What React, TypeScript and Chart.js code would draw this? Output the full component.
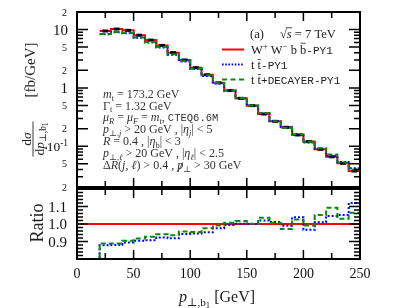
import React, { useEffect, useRef } from 'react';
import { Chart, registerables } from 'chart.js';

Chart.register(...registerables);

// ---------------- data ----------------
const binLowEdges = [20, 30, 40, 50, 60, 70, 80, 90, 100, 110, 120, 130, 140, 150, 160, 170, 180, 190, 200, 210, 220, 230, 240];
const binUpperEdge = 250;
const emptyBinStart = 10;
const wwbbPY1 = [9.45, 10.2, 9.7, 8.0, 6.6, 5.35, 4.02, 3.01, 2.22, 1.68, 1.22, 0.9, 0.663, 0.496, 0.357, 0.267, 0.211, 0.156, 0.12, 0.0885, 0.066, 0.051, 0.0376];
const ttPY1 = [8.3, 8.98, 8.67, 7.23, 5.99, 4.94, 3.69, 2.84, 2.1, 1.6, 1.19, 0.895, 0.664, 0.496, 0.364, 0.27, 0.209, 0.162, 0.116, 0.0894, 0.069, 0.0536, 0.0421];
const ttDecayerPY1 = [8.4, 9.07, 8.77, 7.34, 6.12, 5.04, 3.76, 2.88, 2.12, 1.64, 1.21, 0.906, 0.674, 0.497, 0.37, 0.269, 0.205, 0.16, 0.119, 0.093, 0.0721, 0.0525, 0.04];
const wwbbOverflow = 0.028;
const ttOverflow = 0.031;
const ttDecayerOverflow = 0.03;

const xTickValues = [0, 25, 50, 75, 100, 125, 150, 175, 200, 225, 250];
const xLabelValues = [0, 50, 100, 150, 200, 250];
const xLabels = ['0', '50', '100', '150', '200', '250'];
const topLabelValues = [20, 10, 5, 2, 1, 0.5, 0.2, 0.1, 0.05, 0.02];
const topLabels = ['2', '10', '5', '2', '1', '5', '2', '10^-1', '5', '2'];
const ratioLabelValues = [0.9, 1.0, 1.1];
const ratioLabels = ['0.9', '1.0', '1.1'];

const SERIF = '"Liberation Serif", "DejaVu Serif", serif';
const MONO = '"Liberation Mono", "DejaVu Sans Mono", monospace';

// ---------------- rich text ----------------
type Seg = { t: string; it?: boolean; mono?: boolean; lvl?: number; bar?: number; slash?: boolean; gap?: number; ovl?: boolean };

function segFont(s: Seg, size: number) {
  let fs = s.lvl === 1 || s.lvl === -1 ? size * 0.7 : s.lvl === -2 ? size * 0.55 : size;
  if (s.mono) fs *= 0.88;
  return { fs, font: `${s.it ? 'italic ' : ''}${fs.toFixed(2)}px ${s.mono ? MONO : SERIF}` };
}
function segOff(s: Seg, size: number) {
  if (s.lvl === 1) return -size * 0.4;
  if (s.lvl === -1) return size * 0.22;
  if (s.lvl === -2) return size * 0.36;
  return 0;
}
function richWidth(ctx: CanvasRenderingContext2D, segs: Seg[], size: number) {
  let w = 0;
  for (const s of segs) {
    ctx.font = segFont(s, size).font;
    w += ctx.measureText(s.t).width + (s.gap || 0);
  }
  return w;
}
function drawRich(ctx: CanvasRenderingContext2D, segs: Seg[], x: number, y: number, size: number, align: 'left' | 'center' | 'right', color: string) {
  const w = richWidth(ctx, segs, size);
  let cx = align === 'left' ? x : align === 'center' ? x - w / 2 : x - w;
  ctx.save();
  ctx.fillStyle = color;
  ctx.strokeStyle = color;
  ctx.textAlign = 'left';
  ctx.textBaseline = 'alphabetic';
  for (const s of segs) {
    const { fs, font } = segFont(s, size);
    ctx.font = font;
    const sw = ctx.measureText(s.t).width;
    const by = y + segOff(s, size);
    ctx.fillText(s.t, cx, by);
    if (s.bar) {
      ctx.lineWidth = 0.8;
      ctx.beginPath();
      ctx.moveTo(cx + sw * 0.1, by - fs * s.bar);
      ctx.lineTo(cx + sw * 0.9, by - fs * s.bar);
      ctx.stroke();
    }
    if (s.ovl) {
      ctx.lineWidth = 0.8;
      ctx.beginPath();
      ctx.moveTo(cx - 1, by - fs * 0.82);
      ctx.lineTo(cx + sw + 0.5, by - fs * 0.82);
      ctx.stroke();
    }
    if (s.slash) {
      ctx.lineWidth = 0.8;
      ctx.beginPath();
      ctx.moveTo(cx + sw * 0.15, by + fs * 0.22);
      ctx.lineTo(cx + sw * 0.95, by - fs * 0.55);
      ctx.stroke();
    }
    cx += sw + (s.gap || 0);
  }
  ctx.restore();
  return w;
}

// ---------------- helpers ----------------
function histPoints(vals: number[], overflow: number) {
  const pts = [{ x: emptyBinStart, y: 0 }];
  binLowEdges.forEach((x, i) => pts.push({ x, y: vals[i] }));
  pts.push({ x: binUpperEdge, y: overflow });
  return pts;
}
function ratioPoints(vals: number[], ref: number[], ov: number, ovRef: number) {
  const pts = [{ x: emptyBinStart, y: 0 }];
  binLowEdges.forEach((x, i) => pts.push({ x, y: vals[i] / ref[i] }));
  pts.push({ x: binUpperEdge, y: ov / ovRef });
  return pts;
}
function binCenters() {
  return binLowEdges.map((x, i) => (x + (i + 1 < binLowEdges.length ? binLowEdges[i + 1] : binUpperEdge)) / 2);
}

function drawFrame(chart: any, yTicks: { v: number; long: boolean }[]) {
  const { ctx, chartArea: a, scales } = chart;
  const xs = scales.x;
  const ys = scales.y;
  ctx.save();
  ctx.strokeStyle = '#000';
  ctx.lineWidth = 1.5;
  ctx.beginPath();
  for (const v of xTickValues) {
    if (v <= xs.min || v >= xs.max) continue;
    const px = xs.getPixelForValue(v);
    const len = v % 50 === 0 ? 9 : 6;
    ctx.moveTo(px, a.bottom);
    ctx.lineTo(px, a.bottom - len);
    ctx.moveTo(px, a.top);
    ctx.lineTo(px, a.top + len);
  }
  for (const t of yTicks) {
    const py = ys.getPixelForValue(t.v);
    if (py <= a.top + 1 || py >= a.bottom - 1) continue;
    const len = t.long ? 11 : 6;
    ctx.moveTo(a.left, py);
    ctx.lineTo(a.left + len, py);
    ctx.moveTo(a.right, py);
    ctx.lineTo(a.right - len, py);
  }
  ctx.stroke();
  ctx.lineWidth = 2;
  ctx.strokeRect(a.left, a.top, a.right - a.left, a.bottom - a.top);
  ctx.restore();
}

const hiddenScale = { display: false };

export default function App() {
  const topRef = useRef<HTMLCanvasElement>(null);
  const botRef = useRef<HTMLCanvasElement>(null);

  useEffect(() => {
    // log-scale tick positions
    const logTicks: { v: number; long: boolean }[] = [];
    for (let k = -2; k <= 1; k++) {
      for (let m = 1; m <= 9; m++) {
        const v = m * Math.pow(10, k);
        if (v >= 0.02 && v <= 20) logTicks.push({ v, long: m === 1 || m === 2 || m === 5 });
      }
    }
    const ratioTicks: { v: number; long: boolean }[] = [];
    for (let i = 41; i <= 59; i++) {
      ratioTicks.push({ v: i * 0.02, long: false });
    }
    ratioLabelValues.forEach((v) => ratioTicks.push({ v, long: true }));

    const topPlugin = {
      id: 'topDecor',
      afterDraw(chart: any) {
        const { ctx } = chart;
        drawFrame(chart, logTicks);
        const ys = chart.scales.y;
        // y title (rotated)
        ctx.save();
        ctx.translate(33, 139);
        ctx.rotate(-Math.PI / 2);
        const num: Seg[] = [{ t: 'd' }, { t: 'σ', it: true }];
        const den: Seg[] = [{ t: 'd' }, { t: 'p', it: true }, { t: '⊥,', lvl: -1 }, { t: 'b', lvl: -1 }, { t: '1', lvl: -2 }];
        const fs = 13.5;
        const wn = richWidth(ctx, num, fs);
        const wd = richWidth(ctx, den, fs);
        const wb = Math.max(wn, wd) + 2;
        drawRich(ctx, num, 0, -2.5, fs, 'center', '#222');
        drawRich(ctx, den, 0, 10.5, fs, 'center', '#222');
        ctx.strokeStyle = '#222';
        ctx.lineWidth = 0.9;
        ctx.beginPath();
        ctx.moveTo(-wb / 2, 0);
        ctx.lineTo(wb / 2, 0);
        ctx.stroke();
        ctx.restore();
        ctx.save();
        ctx.translate(35, 70);
        ctx.rotate(-Math.PI / 2);
        drawRich(ctx, [{ t: '[fb/GeV]' }], 0, 0, 15, 'center', '#222');
        ctx.restore();

        // y tick labels
        topLabelValues.forEach((v, i) => {
          const py = ys.getPixelForValue(v);
          const lab = topLabels[i];
          if (lab === '10^-1') {
            drawRich(ctx, [{ t: '10' }, { t: '-1', lvl: 1 }], 68, py + 5, 13.5, 'right', '#111');
          } else if (lab === '10' || lab === '1') {
            drawRich(ctx, [{ t: lab }], 68, py + 5, 15, 'right', '#111');
          } else {
            drawRich(ctx, [{ t: lab }], 67, py + 3.5, 10, 'right', '#111');
          }
        });

        // header and legend
        drawRich(ctx, [{ t: '(a)' }], 250, 38, 12.5, 'left', '#222');
        drawRich(ctx, [{ t: '√' }, { t: 's', it: true, ovl: true }, { t: ' = 7 TeV' }], 280, 38, 12.5, 'left', '#222');
        const legendRows: { color: string; dash: number[]; y: number; segs: Seg[] }[] = [
          { color: '#ff0000', dash: [], y: 49.5, segs: [{ t: 'W' }, { t: '+', lvl: 1 }, { t: ' W' }, { t: '−', lvl: 1 }, { t: ' b ' }, { t: 'b', bar: 0.82 }, { t: '-PY1', mono: true }] },
          { color: '#0000ff', dash: [1.6, 1.6], y: 64.5, segs: [{ t: 't ' }, { t: 't', bar: 0.72 }, { t: '-PY1', mono: true }] },
          { color: '#0a8a0a', dash: [5, 3.5], y: 79.5, segs: [{ t: 't ' }, { t: 't', bar: 0.72 }, { t: '+DECAYER-PY1', mono: true }] },
        ];
        legendRows.forEach((r) => {
          ctx.save();
          ctx.strokeStyle = r.color;
          ctx.lineWidth = 2;
          ctx.setLineDash(r.dash);
          ctx.beginPath();
          ctx.moveTo(222, r.y);
          ctx.lineTo(244, r.y);
          ctx.stroke();
          ctx.restore();
          drawRich(ctx, r.segs, 251, r.y + 4, 12.5, 'left', '#222');
        });

        // annotation block
        const ann: Seg[][] = [
          [{ t: 'm', it: true }, { t: 't', lvl: -1 }, { t: ' = 173.2 GeV' }],
          [{ t: 'Γ' }, { t: 't', lvl: -1 }, { t: ' = 1.32 GeV' }],
          [{ t: 'μ', it: true }, { t: 'R', it: true, lvl: -1 }, { t: ' = ' }, { t: 'μ', it: true }, { t: 'F', it: true, lvl: -1 }, { t: ' = ' }, { t: 'm', it: true }, { t: 't', lvl: -1 }, { t: ', ' }, { t: 'CTEQ6.6M', mono: true }],
          [{ t: 'p', it: true }, { t: '⊥,', lvl: -1 }, { t: 'j', it: true, lvl: -1 }, { t: ' > 20 GeV , |' }, { t: 'η', it: true }, { t: 'j', it: true, lvl: -1 }, { t: '| < 5' }],
          [{ t: 'R', it: true }, { t: ' = 0.4 , |' }, { t: 'η', it: true }, { t: 'b', lvl: -1 }, { t: '| < 3' }],
          [{ t: 'p', it: true }, { t: '⊥,', lvl: -1 }, { t: 'ℓ', it: true, lvl: -1 }, { t: ' > 20 GeV , |' }, { t: 'η', it: true }, { t: 'ℓ', it: true, lvl: -1 }, { t: '| < 2.5' }],
          [{ t: 'Δ' }, { t: 'R', it: true }, { t: '(' }, { t: 'j', it: true }, { t: ', ' }, { t: 'ℓ', it: true }, { t: ') > 0.4 , ' }, { t: 'p', it: true, slash: true }, { t: '⊥', lvl: -1 }, { t: ' > 30 GeV' }],
        ];
        const baselines = [98, 109.5, 121, 133, 145, 157, 169];
        ann.forEach((segs, i) => drawRich(ctx, segs, 103, baselines[i], 12, 'left', '#333'));
      },
    };

    const botPlugin = {
      id: 'botDecor',
      afterDraw(chart: any) {
        const { ctx } = chart;
        drawFrame(chart, ratioTicks);
        const ys = chart.scales.y;
        const xs = chart.scales.x;
        ratioLabelValues.forEach((v, i) => {
          drawRich(ctx, [{ t: ratioLabels[i] }], 67, ys.getPixelForValue(v) + 5, 15, 'right', '#111');
        });
        xLabelValues.forEach((v, i) => {
          drawRich(ctx, [{ t: xLabels[i] }], xs.getPixelForValue(v), 278, 14, 'center', '#111');
        });
        ctx.save();
        ctx.translate(43, 223);
        ctx.rotate(-Math.PI / 2);
        drawRich(ctx, [{ t: 'Ratio' }], 0, 0, 18, 'center', '#222');
        ctx.restore();
        drawRich(ctx, [{ t: 'p', it: true }, { t: '⊥,b', lvl: -1 }, { t: '1', lvl: -2 }, { t: ' [GeV]' }], 217, 302, 16, 'center', '#222');
      },
    };

    const lineStyle = { stepped: true as const, pointRadius: 0, borderWidth: 2, fill: false, tension: 0 };

    const top = new Chart(topRef.current!, {
      type: 'line',
      data: {
        datasets: [
          { ...lineStyle, label: 'tt+DECAYER-PY1', data: histPoints(ttDecayerPY1, ttDecayerOverflow), borderColor: '#0a8a0a', borderDash: [5, 3] },
          { ...lineStyle, label: 'tt-PY1', data: histPoints(ttPY1, ttOverflow), borderColor: '#0000ff', borderDash: [2, 2] },
          {
            label: 'markers',
            data: binCenters().map((x, i) => ({ x, y: wwbbPY1[i] })),
            showLine: false,
            pointStyle: 'line',
            pointRadius: 3,
            pointBorderWidth: 3,
            pointBorderColor: '#000',
            pointBackgroundColor: '#000',
          } as any,
          { ...lineStyle, label: 'WWbb-PY1', data: histPoints(wwbbPY1, wwbbOverflow), borderColor: '#ff0000' },
        ],
      },
      options: {
        responsive: false,
        animation: false,
        devicePixelRatio: 1,
        events: [],
        layout: { padding: { left: 77, right: 47, top: 12, bottom: 121 } },
        plugins: { legend: { display: false }, tooltip: { enabled: false } },
        scales: {
          x: { type: 'linear', min: 0, max: 250, ...hiddenScale },
          y: { type: 'logarithmic', min: 0.02, max: 20, ...hiddenScale },
        },
      },
      plugins: [topPlugin],
    } as any);

    const bot = new Chart(botRef.current!, {
      type: 'line',
      data: {
        datasets: [
          { ...lineStyle, label: 'tt+DECAYER-PY1', data: ratioPoints(ttDecayerPY1, wwbbPY1, ttDecayerOverflow, wwbbOverflow), borderColor: '#0a8a0a', borderDash: [5, 3] },
          { ...lineStyle, label: 'tt-PY1', data: ratioPoints(ttPY1, wwbbPY1, ttOverflow, wwbbOverflow), borderColor: '#0000ff', borderDash: [2, 2] },
          { ...lineStyle, stepped: false, label: 'WWbb-PY1', data: [{ x: 0, y: 1 }, { x: 250, y: 1 }], borderColor: '#ff0000' },
        ],
      },
      options: {
        responsive: false,
        animation: false,
        devicePixelRatio: 1,
        events: [],
        layout: { padding: { left: 77, right: 47, top: 189, bottom: 49 } },
        plugins: { legend: { display: false }, tooltip: { enabled: false } },
        scales: {
          x: { type: 'linear', min: 0, max: 250, ...hiddenScale },
          y: { type: 'linear', min: 0.8, max: 1.2, ...hiddenScale },
        },
      },
      plugins: [botPlugin],
    } as any);

    return () => {
      top.destroy();
      bot.destroy();
    };
  }, []);

  return (
    <div style={{ position: 'absolute', left: 0, top: 0, width: 407, height: 308, background: '#fff' }}>
      <canvas ref={topRef} width={407} height={308} style={{ position: 'absolute', left: 0, top: 0 }} />
      <canvas ref={botRef} width={407} height={308} style={{ position: 'absolute', left: 0, top: 0 }} />
    </div>
  );
}
